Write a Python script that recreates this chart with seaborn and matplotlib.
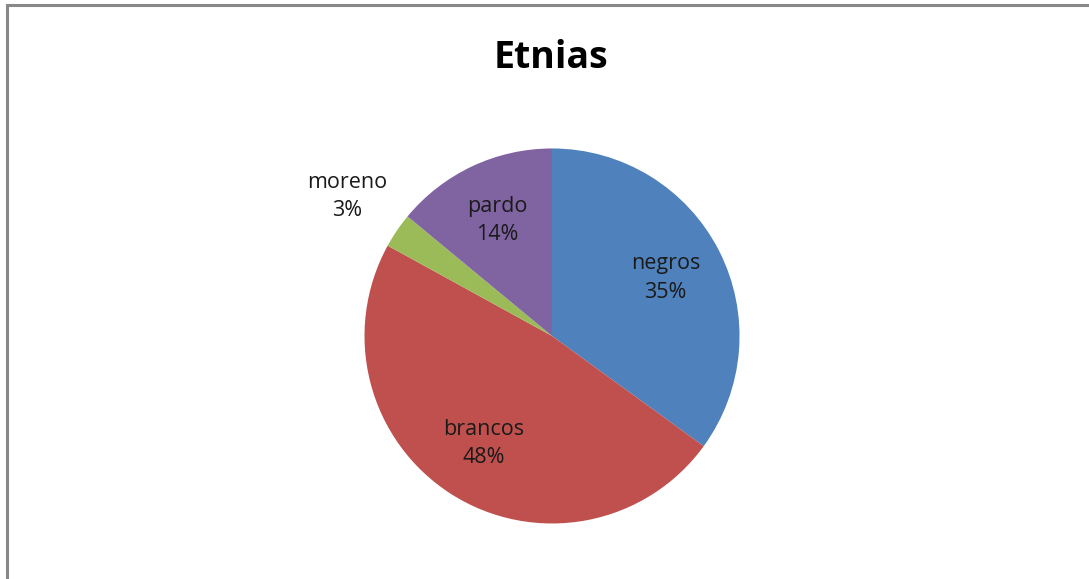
import numpy as np
import matplotlib
matplotlib.use("Agg")
from matplotlib import pyplot as plt
from matplotlib.patches import Rectangle
import seaborn as sns

categorias = ["negros", "brancos", "moreno", "pardo"]
valores = [35, 48, 3, 14]
cores = ["#4F81BD", "#C0504D", "#9BBB59", "#8064A2"]
titulo = "Etnias"

sns.set_theme(style="white")
plt.rcParams["font.family"] = ["Open Sans", "DejaVu Sans"]

fig = plt.figure(figsize=(10.89, 5.79), dpi=100)
fig.patch.set_facecolor("white")

# pie axes placed so the circle sits where the reference has it
ax = fig.add_axes([0.3347, 0.0959, 0.3444, 0.6477])
wedges, _ = ax.pie(valores, colors=cores, startangle=90, counterclock=False,
                   wedgeprops=dict(linewidth=0))
ax.set_aspect("equal")
ax.set_xlim(-1, 1)
ax.set_ylim(-1, 1)
ax.axis("off")

# data labels: inside for big slices, outside for small one
total = sum(valores)
for w, nome, v in zip(wedges, categorias, valores):
    ang = np.deg2rad((w.theta1 + w.theta2) / 2)
    pct = v / total
    dist = 1.32 if pct < 0.05 else 0.68
    ax.text(dist * np.cos(ang), dist * np.sin(ang), f"{nome}\n{v}%",
            ha="center", va="center", fontsize=15.5, color="#1a1a1a",
            linespacing=1.45)

fig.text(0.506, 0.9, titulo, ha="center", va="center", fontsize=27,
         fontweight="bold", color="black")

# chart-area border (only left and top visible in the reference)
fig.add_artist(Rectangle((7 / 1089, -0.05), 1.1, 1 - 5 / 579 + 0.05,
                         transform=fig.transFigure, fill=False,
                         edgecolor="#888888", linewidth=2.2))

fig.savefig("out.png", dpi=100)
